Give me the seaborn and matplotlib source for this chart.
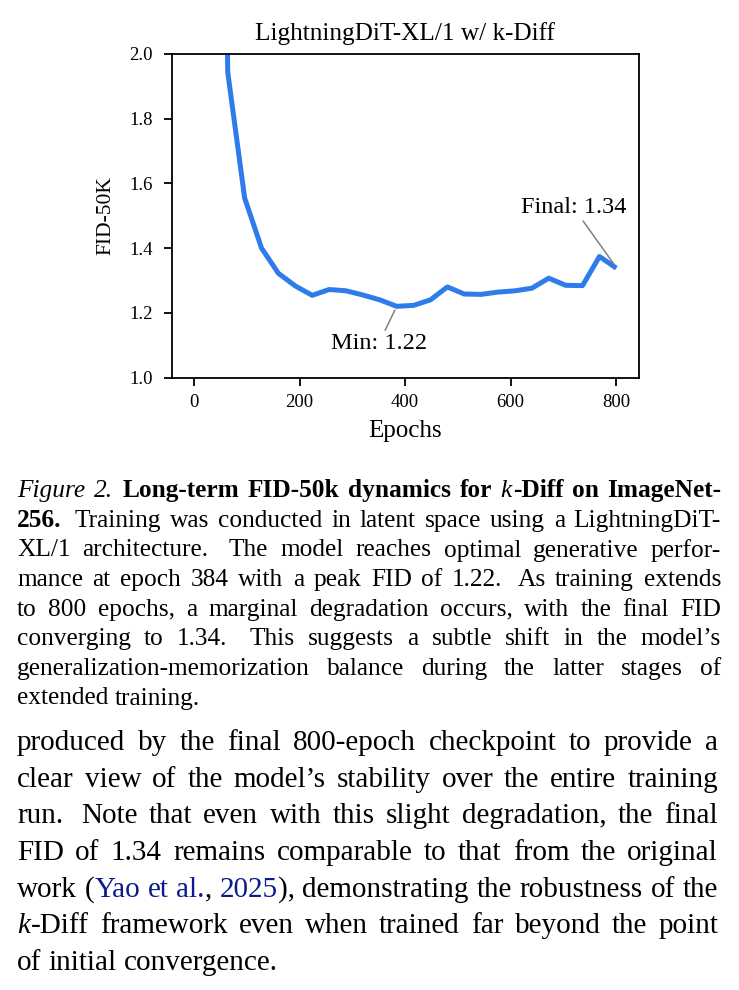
import matplotlib
matplotlib.use('Agg')
import matplotlib.pyplot as plt
import seaborn as sns
import pandas as pd

# ---------------- data ----------------
epochs = [32, 64, 96, 128, 160, 192, 224, 256, 288, 320, 352, 384, 416,
          448, 480, 512, 544, 576, 608, 640, 672, 704, 736, 768, 800]
fid = [6.0, 1.944, 1.555, 1.400, 1.322, 1.283, 1.254, 1.272, 1.268, 1.255,
       1.240, 1.220, 1.223, 1.240, 1.280, 1.258, 1.257, 1.264, 1.268, 1.276,
       1.307, 1.285, 1.284, 1.374, 1.338]
x_ticks = [0, 200, 400, 600, 800]
y_ticks = [1.0, 1.2, 1.4, 1.6, 1.8, 2.0]
min_epoch, min_fid = 384, 1.22
final_epoch, final_fid = 800, 1.34
title = 'LightningDiT-XL/1 w/ k-Diff'

caption_lines = [
    [('i', 'Figure 2.'), ('b', ' Long-term FID-50k dynamics for '), ('m', 'k'), ('b', '-Diff on ImageNet-')],
    [('b', '256.'), ('r', ' Training was conducted in latent space using a LightningDiT-')],
    [('r', 'XL/1 architecture. The model reaches optimal generative perfor-')],
    [('r', 'mance at epoch 384 with a peak FID of 1.22. As training extends')],
    [('r', 'to 800 epochs, a marginal degradation occurs, with the final FID')],
    [('r', 'converging to 1.34.  This suggests a subtle shift in the model\u2019s')],
    [('r', 'generalization-memorization balance during the latter stages of')],
    [('r', 'extended training.')],
]
body_lines = [
    [('r', 'produced by the final 800-epoch checkpoint to provide a')],
    [('r', 'clear view of the model\u2019s stability over the entire training')],
    [('r', 'run.  Note that even with this slight degradation, the final')],
    [('r', 'FID of 1.34 remains comparable to that from the original')],
    [('r', 'work ('), ('c', 'Yao et al.'), ('r', ', '), ('c', '2025'), ('r', '), demonstrating the robustness of the')],
    [('m', 'k'), ('r', '-Diff framework even when trained far beyond the point')],
    [('r', 'of initial convergence.')],
]

# ---------------- style ----------------
SERIF = 'Liberation Serif'
plt.rcParams['font.family'] = [SERIF, 'DejaVu Serif']
plt.rcParams['axes.linewidth'] = 1.3
plt.rcParams['xtick.major.width'] = 1.3
plt.rcParams['ytick.major.width'] = 1.3
plt.rcParams['xtick.major.size'] = 5.5
plt.rcParams['ytick.major.size'] = 5.5

W, H = 739, 990
fig = plt.figure(figsize=(W / 100, H / 100), dpi=100)
fig.patch.set_facecolor('white')

ax_l, ax_r, ax_t, ax_b = 172.3, 638.5, 54.0, 377.5
ax = fig.add_axes([ax_l / W, 1 - ax_b / H, (ax_r - ax_l) / W, (ax_b - ax_t) / H])

df = pd.DataFrame({'Epochs': epochs, 'FID': fid})
sns.lineplot(data=df, x='Epochs', y='FID', ax=ax, color='#2E7CEB',
             linewidth=3.6, solid_joinstyle='round', solid_capstyle='butt')
ax.set_xlim(-41, 842)
ax.set_ylim(1.0, 2.0)
ax.set_xticks(x_ticks)
ax.set_yticks(y_ticks)
ax.set_yticklabels([f'{v:.1f}' for v in y_ticks])
ax.tick_params(axis='x', labelsize=13.5, pad=6.5, direction='out')
ax.tick_params(axis='y', labelsize=13.5, pad=8.5, direction='out')
ax.set_xlabel('Epochs', fontsize=18, labelpad=6)
ax.set_ylabel('FID-50K', fontsize=15.5, labelpad=10)
ax.set_title(title, fontsize=18.2, pad=10)
for s in ax.spines.values():
    s.set_visible(True)

ann_kw = dict(fontsize=17.5, ha='center', va='center',
              arrowprops=dict(arrowstyle='-', color='#808080', lw=1.1,
                              shrinkA=0, shrinkB=3))
ax.annotate(f'Min: {min_fid:.2f}', xy=(min_epoch, min_fid), xytext=(350, 1.105), **ann_kw)
ax.annotate(f'Final: {final_fid:.2f}', xy=(final_epoch, final_fid), xytext=(719, 1.525), **ann_kw)

# ---------------- justified text ----------------
STY = {
    'r': dict(color='black'),
    'b': dict(weight='bold', color='black'),
    'i': dict(style='italic', color='black'),
    'm': dict(style='italic', color='black'),
    'c': dict(color='#0B1C8A'),
}


def words_of(line):
    words, cur = [], []
    for sty, txt in line:
        parts = txt.split(' ')
        for j, p in enumerate(parts):
            if j > 0 and cur:
                words.append(cur)
                cur = []
            if p:
                cur.append((sty, p))
    if cur:
        words.append(cur)
    return words


renderer = fig.canvas.get_renderer()


def draw_par(lines, x0, x1, y0, dy, fs):
    em = fs * 100 / 72
    for li, line in enumerate(lines):
        yb = 1 - (y0 + li * dy) / H
        words = words_of(line)
        items = []
        total = 0.0
        ends = []
        for w in words:
            pieces = []
            for sty, txt in w:
                t = fig.text(0, yb, txt, fontsize=fs, family=SERIF, va='baseline',
                             ha='left', **STY[sty])
                wd = t.get_window_extent(renderer).width
                if sty in ('i', 'm'):
                    wd += 0.03 * em
                pieces.append((t, wd))
                total += wd
            items.append(pieces)
            ends.append(''.join(p for _, p in w))
        # natural gaps and stretchabilities (wider after a sentence end)
        bases, stretch = [], []
        for wtxt in ends[:-1]:
            sent = wtxt.endswith('.') and wtxt not in ('al.', '2.')
            bases.append((0.33 if sent else 0.25) * em)
            stretch.append(2.0 if sent else 1.0)
        last = li == len(lines) - 1
        if last or len(items) < 2:
            gaps = bases
        else:
            extra = (x1 - x0 - total - sum(bases)) / sum(stretch)
            gaps = [b + s * extra for b, s in zip(bases, stretch)]
        x = x0
        for k, pieces in enumerate(items):
            for t, wd in pieces:
                t.set_x(x / W)
                x += wd
            if k < len(gaps):
                x += gaps[k]


draw_par(caption_lines, 17, 721, 497.3, 29.6, 18.3)
draw_par(body_lines, 17, 718, 750.0, 36.65, 21)

fig.savefig('out.png', dpi=100, facecolor='white')
